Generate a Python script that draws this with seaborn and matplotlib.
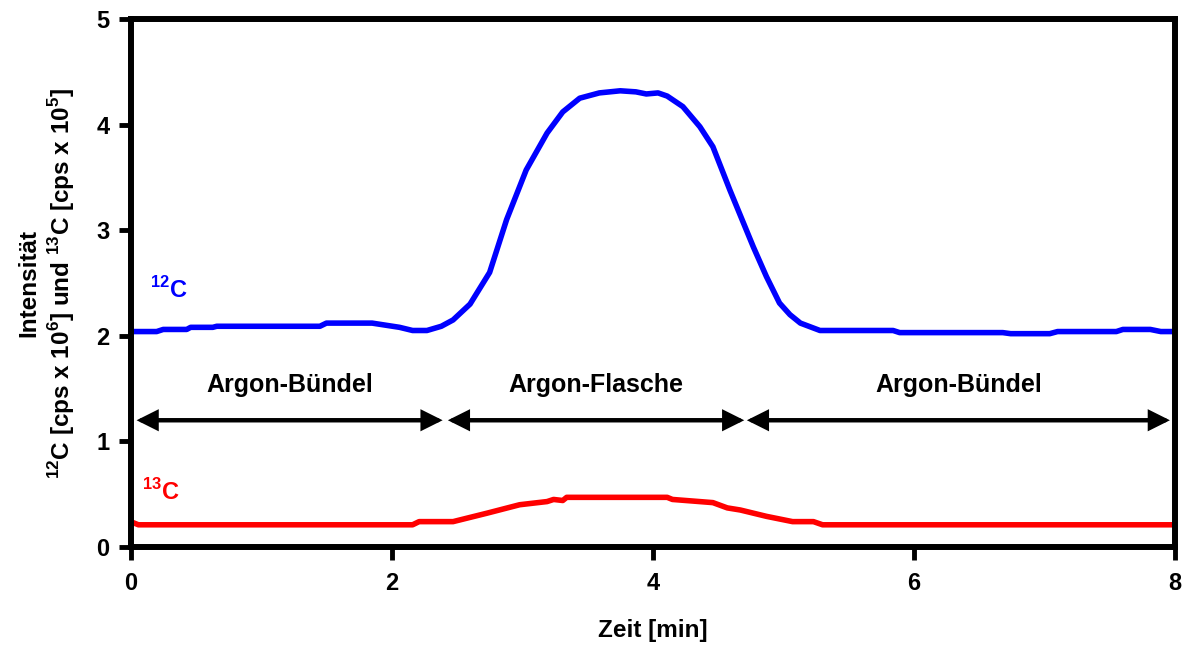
import matplotlib
matplotlib.use("Agg")
import matplotlib.pyplot as plt
import seaborn as sns
import pandas as pd

# 12C trace (cps x 10^6)
t12 = [0.0, 0.2, 0.25, 0.43, 0.46, 0.63, 0.66, 1.45, 1.5, 1.85,
       2.06, 2.16, 2.27, 2.38, 2.47, 2.6, 2.75, 2.88, 3.03, 3.19,
       3.31, 3.44, 3.59, 3.75, 3.87, 3.95, 4.04, 4.11, 4.23, 4.36,
       4.46, 4.59, 4.77, 4.87, 4.97, 5.05, 5.13, 5.28, 5.84, 5.89,
       6.68, 6.74, 7.04, 7.1, 7.55, 7.6, 7.81, 7.89, 8.0]
c12 = [2.04, 2.04, 2.06, 2.06, 2.08, 2.08, 2.09, 2.09, 2.12, 2.12,
       2.08, 2.05, 2.05, 2.09, 2.15, 2.30, 2.60, 3.10, 3.57, 3.92,
       4.12, 4.25, 4.30, 4.32, 4.31, 4.29, 4.30, 4.27, 4.17, 3.98,
       3.79, 3.38, 2.84, 2.56, 2.31, 2.20, 2.12, 2.05, 2.05, 2.03,
       2.03, 2.02, 2.02, 2.04, 2.04, 2.06, 2.06, 2.04, 2.04]

# 13C trace (cps x 10^5)
t13 = [0.0, 0.06, 2.16, 2.21, 2.47, 2.73, 2.98, 3.19, 3.24, 3.31, 3.34,
       4.11, 4.15, 4.46, 4.57, 4.67, 4.87, 5.07, 5.23, 5.3, 8.0]
c13 = [0.24, 0.21, 0.21, 0.24, 0.24, 0.32, 0.40, 0.43, 0.45, 0.44, 0.47,
       0.47, 0.45, 0.42, 0.37, 0.35, 0.29, 0.24, 0.24, 0.21, 0.21]

# gas source segments: (label, start, end)
segment_labels = ["Argon-Bündel", "Argon-Flasche", "Argon-Bündel"]
segment_start = [0.046, 2.43, 4.72]
segment_end = [2.39, 4.70, 7.96]

x_ticks = [0, 2, 4, 6, 8]
y_ticks = [0, 1, 2, 3, 4, 5]

sns.set_theme(style="white")
plt.rcParams["font.family"] = ["Liberation Sans", "DejaVu Sans"]
plt.rcParams["font.weight"] = "bold"
plt.rcParams["mathtext.fontset"] = "custom"
plt.rcParams["mathtext.bf"] = "Liberation Sans:bold"
plt.rcParams["mathtext.rm"] = "Liberation Sans:bold"

df12 = pd.DataFrame({"Zeit": t12, "Intensität": c12})
df13 = pd.DataFrame({"Zeit": t13, "Intensität": c13})

fig = plt.figure(figsize=(11.87, 6.46), dpi=100)
ax = fig.add_axes([0.110, 0.1533, 0.880, 0.8173])

sns.lineplot(data=df12, x="Zeit", y="Intensität", color="#0000ff", lw=4, ax=ax)
sns.lineplot(data=df13, x="Zeit", y="Intensität", color="#ff0000", lw=4, ax=ax)

ax.set_xlim(0, 8)
ax.set_ylim(0, 5)
ax.set_xticks(x_ticks)
ax.set_yticks(y_ticks)
ax.set_xticklabels([str(v) for v in x_ticks], fontsize=17, fontweight="bold")
ax.set_yticklabels([str(v) for v in y_ticks], fontsize=17, fontweight="bold")

for side in ["left", "right", "top", "bottom"]:
    ax.spines[side].set_visible(True)
    ax.spines[side].set_color("black")
    ax.spines[side].set_linewidth(4.3)

ax.tick_params(axis="both", direction="out", length=9, width=3.5,
               color="black", labelcolor="black")
ax.tick_params(axis="y", pad=6, left=True)
ax.tick_params(axis="x", pad=9, bottom=True)

ax.set_xlabel("Zeit [min]", fontsize=17.5, fontweight="bold",
              color="black", labelpad=17)
ax.set_ylabel("Intensität\n"
              r"$^{\mathbf{12}}$C [cps x 10$^{\mathbf{6}}$] und "
              r"$^{\mathbf{13}}$C [cps x 10$^{\mathbf{5}}$]",
              fontsize=17.5, fontweight="bold", color="black",
              labelpad=14, linespacing=1.25)

# segment arrows and labels
for lab, a, b in zip(segment_labels, segment_start, segment_end):
    ax.annotate("", xy=(b, 1.2), xytext=(a, 1.2),
                arrowprops=dict(arrowstyle="<|-|>,head_length=0.6,head_width=0.3",
                                lw=3.2, color="black", mutation_scale=18,
                                shrinkA=0, shrinkB=0, joinstyle="miter"))
    ax.text((a + b) / 2, 1.53, lab, ha="center", va="center",
            fontsize=18, fontweight="bold", color="black")

ax.text(0.15, 2.43, r"$^{\mathbf{12}}$C", color="#0000ff", fontsize=17,
        fontweight="bold", ha="left", va="center")
ax.text(0.09, 0.52, r"$^{\mathbf{13}}$C", color="#ff0000", fontsize=17,
        fontweight="bold", ha="left", va="center")

fig.savefig("out.png", dpi=100)
